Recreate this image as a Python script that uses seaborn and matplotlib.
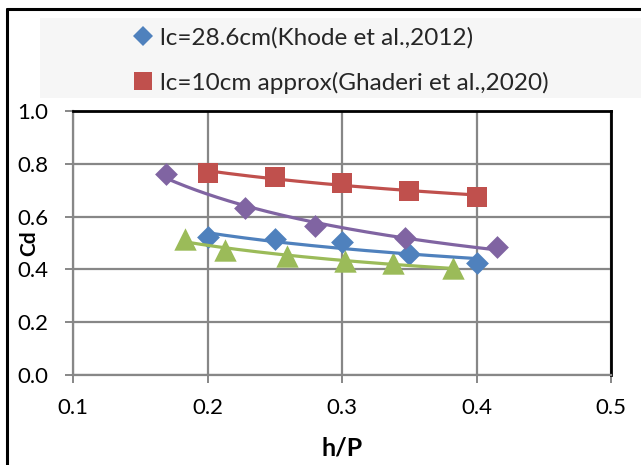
import numpy as np
import pandas as pd
import matplotlib
matplotlib.use("Agg")
import matplotlib.pyplot as plt
import seaborn as sns
from matplotlib.lines import Line2D
from matplotlib.patches import Rectangle

# --- data -------------------------------------------------------------
khode_hp = [0.20, 0.25, 0.30, 0.35, 0.40]
khode_cd = [0.521, 0.514, 0.505, 0.458, 0.425]

ghaderi_hp = [0.20, 0.25, 0.30, 0.35, 0.40]
ghaderi_cd = [0.765, 0.752, 0.727, 0.698, 0.676]

series3_hp = [0.169, 0.228, 0.280, 0.347, 0.415]
series3_cd = [0.762, 0.632, 0.564, 0.518, 0.483]

series4_hp = [0.183, 0.213, 0.259, 0.302, 0.338, 0.3825]
series4_cd = [0.514, 0.473, 0.450, 0.431, 0.423, 0.404]

legend_labels = ["lc=28.6cm(Khode et al.,2012)",
                 "lc=10cm approx(Ghaderi et al.,2020)"]

x_ticks = [0.1, 0.2, 0.3, 0.4, 0.5]
y_ticks = [0.0, 0.2, 0.4, 0.6, 0.8, 1.0]

BLUE, RED, PURPLE, GREEN = "#4F81BD", "#C0504D", "#8064A2", "#9BBB59"
GRID = "#878787"

# --- style ------------------------------------------------------------
sns.set_theme(style="ticks")
plt.rcParams["font.family"] = ["Lato", "DejaVu Sans"]

W, H = 641, 465
fig = plt.figure(figsize=(W / 100, H / 100), dpi=100)
fig.patch.set_facecolor("white")

# axes rectangle given in pixels
ax_l, ax_r, ax_t, ax_b = 73, 611, 111.3, 374.6
ax = fig.add_axes([ax_l / W, (H - ax_b) / H, (ax_r - ax_l) / W, (ax_b - ax_t) / H])


def power_fit(x, y, n=200):
    x = np.asarray(x, float)
    y = np.asarray(y, float)
    b, ln_a = np.polyfit(np.log(x), np.log(y), 1)
    xs = np.linspace(x.min(), x.max(), n)
    return xs, np.exp(ln_a) * xs ** b


series = [
    (khode_hp, khode_cd, BLUE, "D", 135),
    (ghaderi_hp, ghaderi_cd, RED, "s", 190),
    (series3_hp, series3_cd, PURPLE, "D", 135),
    (series4_hp, series4_cd, GREEN, "^", 260),
]

for hp, cd, color, marker, size in series:
    df = pd.DataFrame({"h/P": hp, "Cd": cd})
    sns.scatterplot(data=df, x="h/P", y="Cd", marker=marker, s=size,
                    color=color, linewidth=0, ax=ax, zorder=3, legend=False)
    xs, ys = power_fit(hp, cd)
    sns.lineplot(x=xs, y=ys, color=color, lw=2.3, ax=ax, zorder=4,
                 legend=False, sort=False)

# --- axes styling -----------------------------------------------------
ax.set_xlim(0.1, 0.5)
ax.set_ylim(0.0, 1.0)
ax.set_xticks(x_ticks)
ax.set_xticklabels([f"{v:.1f}" for v in x_ticks])
ax.set_yticks(y_ticks)
ax.set_yticklabels([f"{v:.1f}" for v in y_ticks])

ax.grid(True, color=GRID, lw=1.6)
ax.set_axisbelow(True)
for side in ("left", "bottom"):
    ax.spines[side].set_color(GRID)
    ax.spines[side].set_linewidth(1.6)
for side in ("top", "right"):
    ax.spines[side].set_visible(True)
    ax.spines[side].set_color("black")
    ax.spines[side].set_linewidth(2.0)

ax.tick_params(axis="both", direction="out", length=5.8, width=1.4,
               color=GRID, labelsize=16, labelcolor="black")
ax.tick_params(axis="y", pad=12)
ax.tick_params(axis="x", pad=11)

ax.set_xlabel("h/P", fontsize=18, fontweight="bold", color="black")
ax.set_ylabel("Cd", fontsize=15, fontweight="bold", color="black")
ax.xaxis.label.set_va("center")
ax.yaxis.label.set_va("center")
ax.yaxis.label.set_ha("center")
ax.xaxis.set_label_coords(0.5, (ax_b - 448) / (ax_b - ax_t))
ax.yaxis.set_label_coords((29 - ax_l) / (ax_r - ax_l), (ax_b - 243) / (ax_b - ax_t))

# --- legend band ------------------------------------------------------
fig.add_artist(Rectangle((40 / W, (H - 98) / H), (W - 40) / W, 80 / H,
                         transform=fig.transFigure, facecolor="#f6f6f6",
                         edgecolor="none", zorder=0))

handles = [
    Line2D([], [], marker="D", color=BLUE, linestyle="none", markersize=10,
           markeredgewidth=0),
    Line2D([], [], marker="s", color=RED, linestyle="none", markersize=12.5,
           markeredgewidth=0),
]
fig.legend(handles, legend_labels, loc="upper left",
           bbox_to_anchor=(133 / W, (H - 27) / H),
           frameon=False, fontsize=17.5, handlelength=0.8, handletextpad=0.3,
           labelspacing=0.95, borderpad=0, borderaxespad=0)

# --- outer frame ------------------------------------------------------
fig.add_artist(Line2D([6.5 / W, 6.5 / W], [0, (H - 9.5) / H],
                      transform=fig.transFigure, color="black", lw=2.2))
fig.add_artist(Line2D([6.5 / W, 1], [(H - 9.5) / H, (H - 9.5) / H],
                      transform=fig.transFigure, color="black", lw=2.2))

fig.savefig("out.png", dpi=100)
